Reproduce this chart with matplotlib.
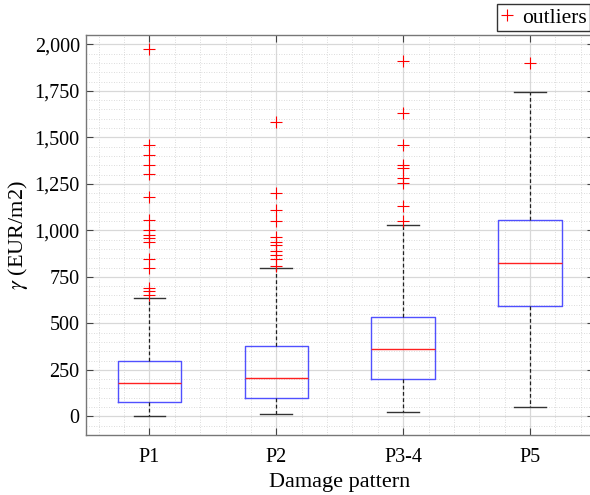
import numpy as np
import matplotlib
matplotlib.use('Agg')
from matplotlib import pyplot as plt
from matplotlib.lines import Line2D
from matplotlib.ticker import MultipleLocator, FuncFormatter

plt.rcParams['font.family'] = ['Liberation Serif', 'DejaVu Serif']
plt.rcParams['mathtext.fontset'] = 'stix'

patterns = ['P1', 'P2', 'P3-4', 'P5']
q1 = [75, 98, 200, 591]
med = [180, 206, 360, 825]
q3 = [299, 379, 535, 1056]
whislo = [3, 12, 21, 50]
whishi = [637, 795, 1028, 1746]
outliers = [
    [652, 675, 691, 795, 845, 940, 958, 976, 1001, 1055, 1177, 1302, 1352, 1407, 1457, 1973],
    [809, 845, 870, 890, 920, 938, 965, 1048, 1110, 1200, 1583],
    [1049, 1131, 1253, 1284, 1336, 1350, 1461, 1629, 1910],
    [1902],
]

stats = []
for i in range(len(patterns)):
    stats.append({'label': patterns[i], 'q1': q1[i], 'med': med[i], 'q3': q3[i],
                  'whislo': whislo[i], 'whishi': whishi[i], 'fliers': outliers[i]})

fig = plt.figure(figsize=(5.9, 4.95), dpi=100)
ax = fig.add_axes([86/590, 60/495, 507.5/590, 400/495])

ax.bxp(stats, positions=[1, 2, 3, 4], widths=0.5, capwidths=0.25,
       boxprops=dict(color='#5050ff', linewidth=1.0),
       medianprops=dict(color='#ff2020', linewidth=1.0),
       whiskerprops=dict(color='#222222', linewidth=0.9, linestyle=(0, (3, 2))),
       capprops=dict(color='#333333', linewidth=1.0),
       flierprops=dict(marker='+', markeredgecolor='red', markersize=8, markeredgewidth=0.8,
                       linestyle='none'))

ax.set_xlim(0.5, 4.5)
ax.set_ylim(-100, 2050)
ax.yaxis.set_major_locator(MultipleLocator(250))
ax.yaxis.set_minor_locator(MultipleLocator(50))
ax.xaxis.set_minor_locator(MultipleLocator(0.2))
ax.yaxis.set_major_formatter(FuncFormatter(lambda v, p: f'{int(v):,}'))

ax.grid(which='major', color='#d8d8d8', linewidth=0.9, linestyle='-')
ax.grid(which='minor', color='#d0d0d0', linewidth=0.6, linestyle=(0, (1, 2)))
ax.set_axisbelow(True)

ax.tick_params(which='major', direction='in', length=5, width=0.8, color='#444444',
               labelsize=14.5, top=True, right=True)
ax.tick_params(axis='x', pad=9)
ax.tick_params(axis='y', pad=4.5)
ax.tick_params(which='minor', length=0)
for s in ax.spines.values():
    s.set_color('#777777')
    s.set_linewidth(1.0)

ax.set_xlabel('Damage pattern', fontsize=16, labelpad=5)
ax.set_ylabel(r'$\gamma$ (EUR/m2)', fontsize=16, labelpad=3)

proxy = Line2D([], [], marker='+', color='red', linestyle='none', markersize=8, markeredgewidth=0.8)
fig.legend([proxy], ['outliers'], loc='lower left', bbox_to_anchor=(497/590, 464/495),
           fontsize=15.5, fancybox=False, edgecolor='#333333', framealpha=1,
           handlelength=0.6, handletextpad=0.4, borderpad=0.15, borderaxespad=0)

plt.savefig('out.png', dpi=100)
